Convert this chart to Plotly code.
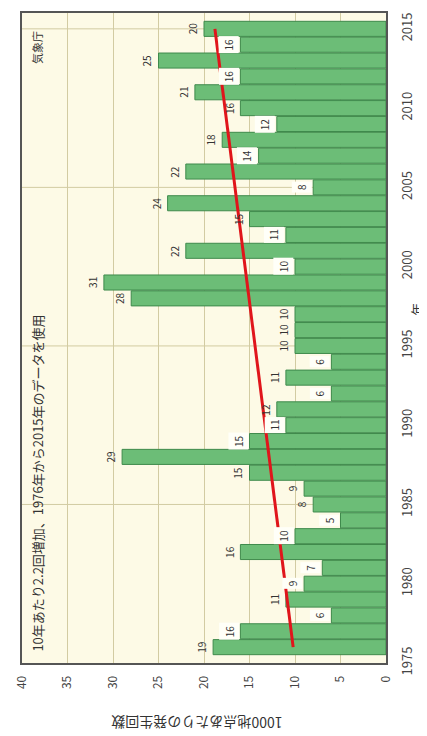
import plotly.graph_objects as go

# annual counts per 1000 stations (1976-2015)
years = list(range(1976, 2016))
counts = [19, 16, 6, 11, 9, 7, 16, 10, 5, 8,
          9, 15, 29, 15, 11, 12, 6, 11, 6, 10,
          10, 10, 28, 31, 10, 22, 11, 15, 24, 8,
          22, 14, 18, 12, 16, 21, 16, 25, 16, 20]

# trend line end points (2.2 per decade)
trend_years = [1976, 2015]
trend_values = [10.2, 18.8]

value_ticks = [0, 5, 10, 15, 20, 25, 30, 35, 40]
year_ticks = [1975, 1980, 1985, 1990, 1995, 2000, 2005, 2010, 2015]
grid_years = [1985, 1995, 2005, 2015]

FONT = "Noto Sans CJK JP"

fig = go.Figure()

fig.add_trace(go.Bar(
    x=counts,
    y=years,
    orientation='h',
    width=0.95,
    marker=dict(color='#6cbd77', line=dict(color='#3f8a4c', width=1)),
    hoverinfo='x+y',
))

fig.add_trace(go.Scatter(
    x=trend_values,
    y=trend_years,
    mode='lines',
    line=dict(color='#e0151b', width=3),
    hoverinfo='skip',
))

# horizontal grid lines every 10 years
for g in grid_years:
    fig.add_shape(type='line', xref='paper', x0=0, x1=1, yref='y', y0=g, y1=g,
                  line=dict(color='#d2cba2', width=1), layer='below')

# value labels next to each bar
for i, (yr, v) in enumerate(zip(years, counts)):
    prev = counts[i - 1] if i > 0 else 0
    fig.add_annotation(
        x=v, y=yr, text=str(v), showarrow=False,
        textangle=-90, xanchor='right', yanchor='middle', xshift=-1,
        bgcolor='#fffff8' if prev > v else 'rgba(0,0,0,0)', borderpad=2,
        font=dict(family=FONT, size=10, color='#333333'),
    )

fig.add_annotation(
    text='10年あたり2.2回増加、1976年から2015年のデータを使用',
    xref='paper', yref='paper', x=0.012, y=0.015,
    xanchor='left', yanchor='bottom', textangle=-90, showarrow=False,
    font=dict(family=FONT, size=13, color='#333333'),
)
fig.add_annotation(
    text='気象庁',
    xref='paper', yref='paper', x=0.012, y=0.975,
    xanchor='left', yanchor='top', textangle=-90, showarrow=False,
    font=dict(family=FONT, size=11, color='#333333'),
)
fig.add_annotation(
    text='1000地点あたりの発生回数',
    xref='paper', yref='paper', x=0.48, y=-0.092,
    xanchor='center', yanchor='middle', textangle=180, showarrow=False,
    font=dict(family=FONT, size=14, color='#333333'),
)
fig.add_annotation(
    text='年',
    xref='paper', yref='paper', x=1.085, y=0.545,
    xanchor='center', yanchor='middle', textangle=-90, showarrow=False,
    font=dict(family=FONT, size=13, color='#333333'),
)

fig.update_layout(
    width=427,
    height=736,
    margin=dict(l=14, r=49, t=3, b=81),
    paper_bgcolor='white',
    plot_bgcolor='#fdfae6',
    showlegend=False,
    bargap=0.05,
    font=dict(family=FONT, color='#444444'),
    xaxis=dict(
        range=[40, 0],
        tickmode='array',
        tickvals=value_ticks,
        tickangle=-90,
        tickfont=dict(size=12),
        ticklabelstandoff=6,
        showgrid=True,
        gridcolor='#d2cba2',
        gridwidth=1,
        zeroline=False,
        showline=True,
        mirror=True,
        linecolor='#555555',
        linewidth=2,
    ),
    yaxis=dict(
        range=[1975, 2016],
        side='right',
        tickmode='array',
        tickvals=year_ticks,
        tickangle=-90,
        tickfont=dict(size=13),
        ticklabelstandoff=8,
        showgrid=False,
        zeroline=False,
        showline=True,
        mirror=True,
        linecolor='#555555',
        linewidth=2,
    ),
)

fig.write_html("out.html")
